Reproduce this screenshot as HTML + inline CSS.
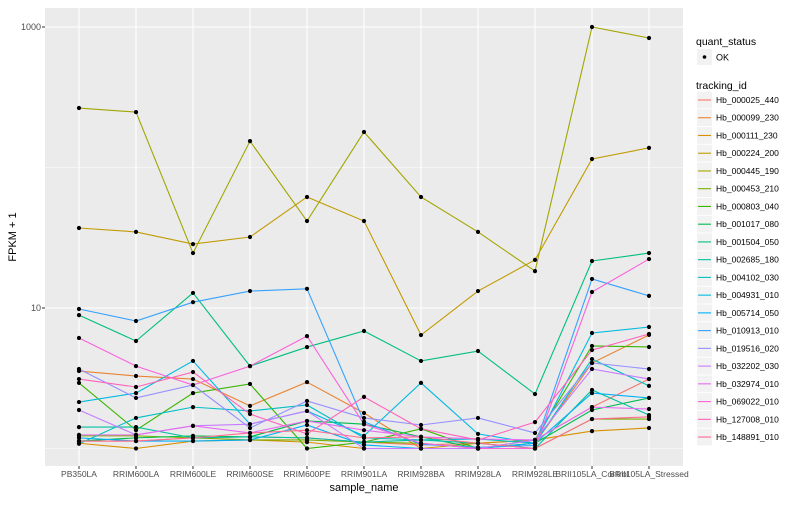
<!DOCTYPE html>
<html><head><meta charset="utf-8"><style>
body{margin:0;background:#fff;font-family:"Liberation Sans",Arial,sans-serif}
svg text{font-family:"Liberation Sans",Arial,sans-serif}
</style></head><body>
<svg id="chart" width="800" height="500" xmlns="http://www.w3.org/2000/svg"></svg>
<script>
const categories=["PB350LA","RRIM600LA","RRIM600LE","RRIM600SE","RRIM600PE","RRIM901LA","RRIM928BA","RRIM928LA","RRIM928LE","BRII105LA_Control","BRII105LA_Stressed"];
const seriesNames=["Hb_000025_440","Hb_000099_230","Hb_000111_230","Hb_000224_200","Hb_000445_190","Hb_000453_210","Hb_000803_040","Hb_001017_080","Hb_001504_050","Hb_002685_180","Hb_004102_030","Hb_004931_010","Hb_005714_050","Hb_010913_010","Hb_019516_020","Hb_032202_030","Hb_032974_010","Hb_069022_010","Hb_127008_010","Hb_148891_010"];
const colors=["#F8766D","#EA8331","#D89000","#C09B00","#A3A500","#7CAE00","#39B600","#00BB4E","#00BF7D","#00C1A3","#00BFC4","#00BAE0","#00B0F6","#35A2FF","#9590FF","#C77CFF","#E76BF3","#FA62DB","#FF62BC","#FF6C91"];
const s01=[1.13,1.13,1.19,1.21,1.19,1.11,1.06,1.09,1.15,1.97,3.12];
const s02=[3.56,3.28,3.12,2.01,2.97,1.79,1.0,1.0,1.09,4.06,6.43];
const s03=[1.09,1.0,1.13,1.15,1.11,1.0,1.0,1.09,1.15,1.33,1.40];
const s04=[37.1,34.8,28.5,32,61.7,41.6,6.42,13.2,22,115,138];
const s05=[265,248,24.6,154,41.6,179,61.7,34.8,18.3,1000,835];
const s06=[1.23,1.23,1.19,1.15,1.15,1.11,1.09,1.0,1.0,1.62,1.62];
const s07=[2.93,1.35,2.48,2.88,1.0,1.11,1.38,1.0,1.15,5.37,5.28];
const s08=[1.13,1.19,1.23,1.21,1.57,1.49,1.21,1.0,1.09,1.88,2.29];
const s09=[8.9,5.82,12.8,3.86,5.27,6.86,4.2,4.94,2.44,21.6,24.6];
const s10=[1.42,1.42,1.19,1.21,1.19,1.11,1.15,1.09,1.0,2.61,1.73];
const s11=[1.08,1.65,1.97,1.85,2.04,1.19,1.15,1.17,1.09,4.33,2.79];
const s12=[2.14,2.48,4.2,1.49,1.85,1.23,2.93,1.27,1.09,6.64,7.32];
const s13=[1.19,1.13,1.13,1.15,1.47,1.06,1.0,1.0,1.09,2.48,2.29];
const s14=[9.84,8.08,11.0,13.2,13.7,1.55,1.07,1.02,1.05,16.1,12.2];
const s15=[3.68,2.29,2.83,1.40,2.18,1.65,1.47,1.65,1.29,4.06,3.68];
const s16=[1.88,1.25,1.45,1.49,1.85,1.0,1.0,1.0,1.15,3.68,3.12];
const s17=[1.25,1.25,1.45,1.29,1.57,1.35,1.21,1.17,1.15,1.97,1.91];
const s18=[6.12,3.86,2.83,3.86,6.31,1.49,1.09,1.0,1.0,13.0,22.3];
const s19=[3.12,2.74,3.5,1.76,1.27,2.33,1.38,1.15,1.54,5.02,6.53];
const s20=[1.13,1.13,1.19,1.29,1.35,1.19,1.21,1.09,1.0,1.62,1.68];
const seriesValues=[s01,s02,s03,s04,s05,s06,s07,s08,s09,s10,s11,s12,s13,s14,s15,s16,s17,s18,s19,s20];
const yTicks=[10,1000];
const yMinor=[1,100];

const NS="http://www.w3.org/2000/svg";
const svg=document.getElementById('chart');
const P={l:45,r:683,t:8,b:466};
function xS(i){return 79+57*i;}
function yS(v){return 448.5-140.5*Math.log10(v);}
function mk(tag,attrs,parent){const e=document.createElementNS(NS,tag);for(const k in attrs)e.setAttribute(k,attrs[k]);(parent||svg).appendChild(e);return e;}

const panel=mk('rect',{x:P.l,y:P.t,width:P.r-P.l,height:P.b-P.t,fill:'#EBEBEB'});


yMinor.forEach(v=>{const g=mk('line',{x1:P.l,x2:P.r,y1:yS(v),y2:yS(v),stroke:'#fff','stroke-width':0.6});

});
yTicks.forEach(v=>{const g=mk('line',{x1:P.l,x2:P.r,y1:yS(v),y2:yS(v),stroke:'#fff','stroke-width':1.1});


const t=mk('line',{x1:P.l-3,x2:P.l,y1:yS(v),y2:yS(v),stroke:'#333','stroke-width':1});


const l=mk('text',{x:P.l-4,y:yS(v)+3,'text-anchor':'end','font-size':9,fill:'#4D4D4D'});l.textContent=v;

});
categories.forEach((c,i)=>{const g=mk('line',{x1:xS(i),x2:xS(i),y1:P.t,y2:P.b,stroke:'#fff','stroke-width':1.1});


const t=mk('line',{x1:xS(i),x2:xS(i),y1:P.b,y2:P.b+3,stroke:'#333','stroke-width':1});


const l=mk('text',{x:xS(i),y:P.b+11,'text-anchor':'middle','font-size':8.5,fill:'#4D4D4D'});l.textContent=c;

});

seriesValues.forEach((vals,si)=>{
  const pts=vals.map((v,i)=>xS(i)+','+yS(v)).join(' ');
  const pl=mk('polyline',{points:pts,fill:'none',stroke:colors[si],'stroke-width':1.1});
  
  
});
seriesValues.forEach((vals,si)=>{
  vals.forEach((v,i)=>{const c=mk('circle',{cx:xS(i),cy:yS(v),r:2.1,fill:'#000'});
  
  });
});

const xt=mk('text',{x:(P.l+P.r)/2,y:491,'text-anchor':'middle','font-size':11,fill:'#000'});xt.textContent='sample_name';


const yt=mk('text',{x:0,y:0,'text-anchor':'middle','font-size':11,fill:'#000',transform:'translate(16,237) rotate(-90)'});yt.textContent='FPKM + 1';



const lq=mk('text',{x:696,y:45,'font-size':10.5,fill:'#000'});lq.textContent='quant_status';


const kb=mk('rect',{x:697,y:49,width:15,height:16,fill:'#F2F2F2'});


const kd=mk('circle',{cx:704.5,cy:57,r:1.8,fill:'#000'});


const ko=mk('text',{x:716,y:60.5,'font-size':9,fill:'#000'});ko.textContent='OK';


const lt=mk('text',{x:696,y:89,'font-size':10.5,fill:'#000'});lt.textContent='tracking_id';


seriesNames.forEach((n,i)=>{
  const cy=100+i*17.74;
  const b=mk('rect',{x:697,y:cy-8.4,width:15,height:16.8,fill:'#F2F2F2'});
  
  
  const ln=mk('line',{x1:698,x2:711,y1:cy,y2:cy,stroke:colors[i],'stroke-width':1.1});
  
  
  const t=mk('text',{x:716,y:cy+3,'font-size':8.5,fill:'#000'});t.textContent=n;
  
  
});
</script>
</body></html>
